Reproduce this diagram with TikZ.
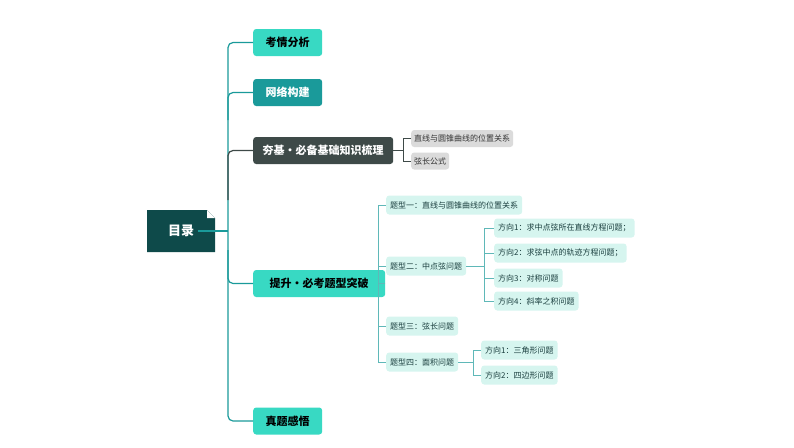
\documentclass[tikz,border=0pt]{standalone}
\usepackage{fontspec}
\setmainfont{Noto Sans CJK SC}
\begin{document}
\begin{tikzpicture}[x=1pt,y=-1pt,
  mainb/.style={rounded corners=3pt,minimum height=27pt,inner xsep=8pt,font=\bfseries\fontsize{11}{12}\selectfont,anchor=west},
  subg/.style={rounded corners=3pt,fill=gray!28,minimum height=17pt,inner xsep=3pt,font=\fontsize{8}{9}\selectfont,text=black!80,anchor=west},
  subt/.style={rounded corners=3pt,fill=tl,minimum height=19pt,inner xsep=4pt,font=\fontsize{8}{9}\selectfont,text=tx,anchor=west},
  tline/.style={draw=tm,line width=1.2pt,rounded corners=5pt},
  sline/.style={draw=tm!70,line width=0.7pt}]
\definecolor{dk}{HTML}{0E4A4A}
\definecolor{tb}{HTML}{38D9C3}
\definecolor{tm}{HTML}{1A9A9A}
\definecolor{gr}{HTML}{3E4A48}
\definecolor{tl}{HTML}{D6F5EF}
\definecolor{tx}{HTML}{1B3F3F}
\useasboundingbox (0,0) rectangle (794,447);
% root
\fill[dk] (147,210) -- (207,210) -- (215,218) -- (215,252) -- (147,252) -- cycle;
\fill[white] (207,210) -- (215,218) -- (207,218) -- cycle;
\node[text=white,font=\bfseries\fontsize{13}{14}\selectfont] (root) at (181,231) {目录};
\coordinate (sp) at (228,231);
% main nodes
\node[mainb,fill=tb,text=black,minimum width=69pt] (a) at (253,42.5) {考情分析};
\node[mainb,fill=tm,text=white,minimum width=69pt] (b) at (253,92.5) {网络构建};
\node[mainb,fill=gr,text=white,minimum width=140pt] (c) at (253,150.5) {夯基·必备基础知识梳理};
\node[mainb,fill=tb,text=black,minimum width=132pt] (d) at (253,283.5) {提升·必考题型突破};
\node[mainb,fill=tb,text=black,minimum width=69pt] (e) at (253,421) {真题感悟};
\draw[tline] (root.east) -- (sp);
\draw[tline] (a.west) -- (228,42.5) -- (228,421) -- (e.west);
\draw[tline] (b.west) -- (228,92.5) -- (228,120);
\draw[tline,draw=gr] (c.west) -- (228,150.5) -- (228,200);
\draw[tline] (d.west) -- (228,283.5) -- (228,250);
% sub of c
\node[subg] (c1) at (411,138.5) {直线与圆锥曲线的位置关系};
\node[subg] (c2) at (411,161) {弦长公式};
\draw[sline,draw=gr] (c.east) -- (403,150.5);
\draw[sline,draw=gr] (c1.west) -| (403,161) -- (c2.west);
% sub of d
\node[subt] (d1) at (386,205) {题型一：直线与圆锥曲线的位置关系};
\node[subt] (d2) at (386,266) {题型二：中点弦问题};
\node[subt] (d3) at (386,326) {题型三：弦长问题};
\node[subt] (d4) at (386,362) {题型四：面积问题};
\draw[sline] (d.east) -- (378,283.5);
\draw[sline] (d1.west) -| (378,362) -- (d4.west);
\draw[sline] (d2.west) -- (378,266);
\draw[sline] (d3.west) -- (378,326);
% sub of d2
\node[subt] (e1) at (494,228) {方向1：求中点弦所在直线方程问题；};
\node[subt] (e2) at (494,253) {方向2：求弦中点的轨迹方程问题；};
\node[subt] (e3) at (494,278) {方向3：对称问题};
\node[subt] (e4) at (494,301) {方向4：斜率之积问题};
\draw[sline] (d2.east) -- (484,266);
\draw[sline] (e1.west) -| (484,301) -- (e4.west);
\draw[sline] (e2.west) -- (484,253);
\draw[sline] (e3.west) -- (484,278);
% sub of d4
\node[subt] (f1) at (481,350) {方向1：三角形问题};
\node[subt] (f2) at (481,375) {方向2：四边形问题};
\draw[sline] (d4.east) -- (473,362);
\draw[sline] (f1.west) -| (473,375) -- (f2.west);
\end{tikzpicture}
\end{document}
